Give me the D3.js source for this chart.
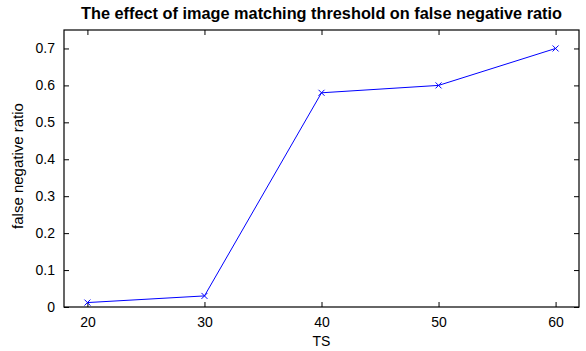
<!DOCTYPE html>
<html><head><meta charset="utf-8">
<script src="https://cdn.jsdelivr.net/npm/d3@7"></script>
<style>body{margin:0;background:#fff}svg{display:block}text{font-family:"Liberation Sans",Arial,sans-serif;fill:#000}</style>
</head><body>
<script>
const xValues = [20, 30, 40, 50, 60];
const yValues = [0.012, 0.03, 0.58, 0.6, 0.7];
const xTicks = [20, 30, 40, 50, 60];
const yTicks = [0, 0.1, 0.2, 0.3, 0.4, 0.5, 0.6, 0.7];
const title = "The effect of image matching threshold on false negative ratio";
const xLabel = "TS";
const yLabel = "false negative ratio";

const W = 586, H = 351;
const m = {left: 64, right: 7, top: 30, bottom: 44};
const svg = d3.select("body").append("svg").attr("width", W).attr("height", H);
const x = d3.scaleLinear().domain([18, 62]).range([m.left, W - m.right]);
const y = d3.scaleLinear().domain([0, 0.75]).range([H - m.bottom, m.top]);
const fmt = d => d === 0 ? "0" : d3.format(".1f")(d);

const g = svg.append("g");
g.append("g").attr("transform", `translate(0,${H - m.bottom})`)
  .call(d3.axisBottom(x).tickValues(xTicks).tickSizeInner(-5).tickSizeOuter(0).tickPadding(10).tickFormat(d3.format("d")));
g.append("g").attr("transform", `translate(0,${m.top})`)
  .call(d3.axisTop(x).tickValues(xTicks).tickSizeInner(-5).tickSizeOuter(0).tickFormat(""));
g.append("g").attr("transform", `translate(${m.left},0)`)
  .call(d3.axisLeft(y).tickValues(yTicks).tickSizeInner(-5).tickSizeOuter(0).tickPadding(9).tickFormat(fmt));
g.append("g").attr("transform", `translate(${W - m.right},0)`)
  .call(d3.axisRight(y).tickValues(yTicks).tickSizeInner(-5).tickSizeOuter(0).tickFormat(""));
g.selectAll(".domain").remove();
g.selectAll(".tick line").attr("stroke", "#000").attr("stroke-width", 1);
g.selectAll(".tick text").attr("font-size", 14).attr("font-family", '"Liberation Sans",Arial,sans-serif');

svg.append("rect").attr("x", m.left).attr("y", m.top)
  .attr("width", W - m.right - m.left).attr("height", H - m.bottom - m.top)
  .attr("fill", "none").attr("stroke", "#000").attr("stroke-width", 1.2);

const data = xValues.map((v, i) => [v, yValues[i]]);
svg.append("path").datum(data)
  .attr("fill", "none").attr("stroke", "#0000ff").attr("stroke-width", 1)
  .attr("d", d3.line().x(d => x(d[0])).y(d => y(d[1])));
const s = 3;
svg.selectAll(".mk").data(data).enter().append("path")
  .attr("d", d => `M${x(d[0]) - s},${y(d[1]) - s}L${x(d[0]) + s},${y(d[1]) + s}M${x(d[0]) - s},${y(d[1]) + s}L${x(d[0]) + s},${y(d[1]) - s}`)
  .attr("stroke", "#0000ff").attr("stroke-width", 1).attr("fill", "none");

svg.append("text").attr("x", 321.5).attr("y", 19)
  .attr("text-anchor", "middle").attr("font-weight", "bold").attr("font-size", 16)
  .attr("textLength", 481).attr("lengthAdjust", "spacingAndGlyphs").text(title);
svg.append("text").attr("x", (m.left + W - m.right) / 2).attr("y", 346)
  .attr("text-anchor", "middle").attr("font-size", 14).text(xLabel);
svg.append("text").attr("transform", `translate(23,166) rotate(-90)`)
  .attr("text-anchor", "middle").attr("font-size", 15).text(yLabel);
</script>
</body></html>
